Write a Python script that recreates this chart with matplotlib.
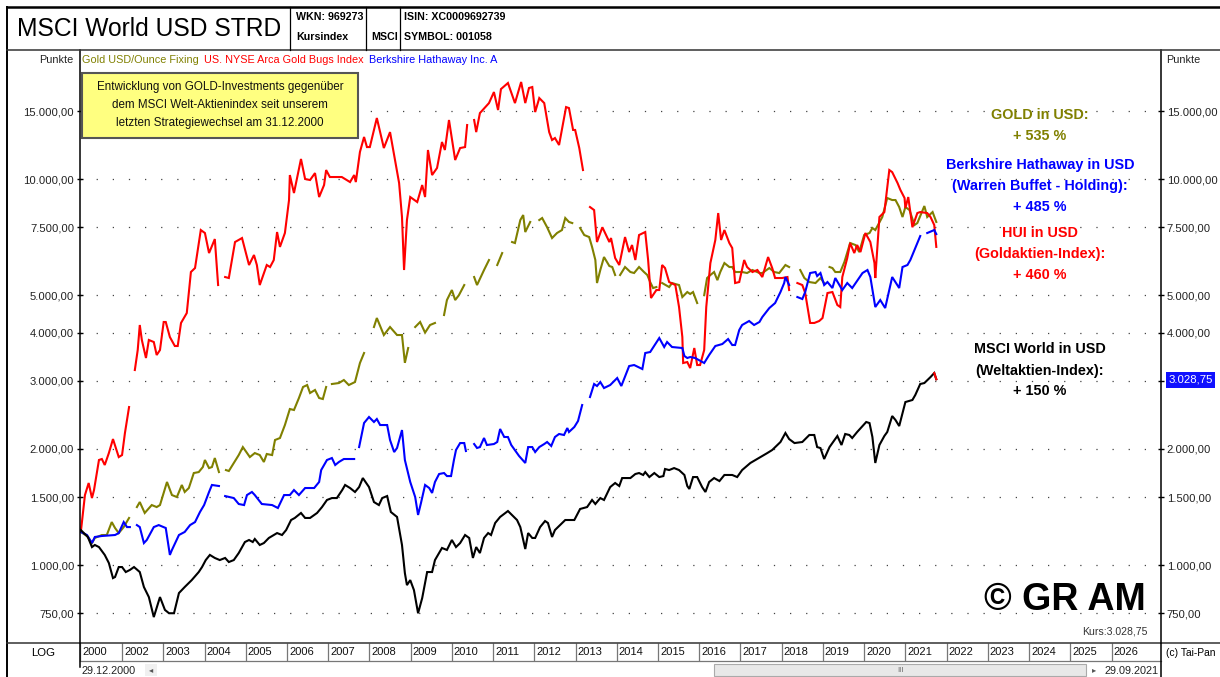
import numpy as np
import matplotlib
matplotlib.use("Agg")
import matplotlib.pyplot as plt
from matplotlib.lines import Line2D
from matplotlib.patches import Rectangle
from matplotlib.ticker import FixedLocator, NullLocator
from matplotlib import transforms

plt.rcParams['font.family'] = ['Liberation Sans', 'DejaVu Sans']

# ---- data (decimal year, index points), None = gap in the series ----
msci = [(2001.0, 1232), (2001.17, 1182), (2001.27, 1113), (2001.34, 1127), (2001.44, 1113), (2001.58, 1062),
        (2001.68, 1012), (2001.78, 925), (2001.83, 931), (2001.92, 988), (2002.00, 988), (2002.09, 959),
        (2002.19, 971), (2002.29, 988), (2002.43, 959), (2002.53, 877), (2002.65, 826), (2002.77, 733),
        (2002.92, 826), (2003.04, 765), (2003.14, 750), (2003.26, 750), (2003.38, 846), (2003.52, 877),
        (2003.69, 914), (2003.86, 959), (2003.94, 988), (2004.03, 1030), (2004.13, 1062), (2004.25, 1043),
        (2004.37, 1030), (2004.50, 1043), (2004.59, 1018), (2004.71, 1030), (2004.83, 1074), (2004.98, 1147),
        (2005.08, 1161), (2005.17, 1147), (2005.22, 1168), (2005.34, 1127), (2005.44, 1140), (2005.56, 1175),
        (2005.76, 1210), (2005.88, 1196), (2005.98, 1232), (2006.10, 1308), (2006.19, 1324), (2006.34, 1364),
        (2006.44, 1324), (2006.56, 1324), (2006.73, 1364), (2006.85, 1413), (2006.97, 1474), (2007.09, 1491),
        (2007.21, 1491), (2007.34, 1564), (2007.41, 1612), (2007.53, 1583), (2007.65, 1546), (2007.75, 1592),
        (2007.84, 1680), (2007.99, 1592), (2008.11, 1456), (2008.23, 1430), (2008.31, 1491), (2008.43, 1509),
        (2008.52, 1372), (2008.67, 1332), (2008.79, 1127), (2008.86, 953), (2008.91, 887), (2008.99, 914),
        (2009.08, 861), (2009.18, 750), (2009.28, 821), (2009.40, 959), (2009.52, 959), (2009.59, 1030),
        (2009.76, 1107), (2009.88, 1094), (2010.00, 1161), (2010.10, 1113), (2010.20, 1140), (2010.32, 1196),
        (2010.42, 1175), (2010.51, 1043), (2010.59, 1113), (2010.68, 1074), (2010.78, 1175), (2010.88, 1210),
        (2010.95, 1196), (2011.05, 1285), (2011.17, 1332), (2011.36, 1380), (2011.58, 1308), (2011.66, 1254),
        (2011.78, 1100), (2011.85, 1210), (2011.95, 1175), (2012.02, 1175), (2012.14, 1254), (2012.26, 1300),
        (2012.33, 1285), (2012.43, 1182), (2012.50, 1232), (2012.75, 1308), (2012.97, 1308), (2013.11, 1397),
        (2013.28, 1413), (2013.40, 1474), (2013.48, 1439), (2013.60, 1491), (2013.69, 1474), (2013.84, 1592),
        (2013.96, 1631), (2014.06, 1602), (2014.13, 1680), (2014.33, 1680), (2014.45, 1721), (2014.54, 1731),
        (2014.64, 1711), (2014.69, 1741), (2014.79, 1690), (2014.91, 1731), (2015.03, 1690), (2015.13, 1700),
        (2015.17, 1773), (2015.27, 1762), (2015.39, 1783), (2015.51, 1762), (2015.64, 1711), (2015.71, 1602),
        (2015.76, 1574), (2015.85, 1690), (2015.95, 1690), (2016.07, 1592), (2016.15, 1546), (2016.24, 1641),
        (2016.36, 1680), (2016.49, 1650), (2016.61, 1711), (2016.80, 1711), (2016.92, 1690), (2017.04, 1762),
        (2017.24, 1838), (2017.53, 1916), (2017.65, 1950), (2017.77, 1986), (2017.97, 2083), (2018.09, 2198),
        (2018.18, 2120), (2018.31, 2070), (2018.50, 2083), (2018.67, 2172), (2018.79, 2172), (2018.86, 2021),
        (2018.94, 2009), (2019.03, 1882), (2019.16, 2021), (2019.35, 2159), (2019.45, 2046), (2019.54, 2185),
        (2019.64, 2172), (2019.71, 2133), (2019.83, 2211), (2020.05, 2347), (2020.13, 2332), (2020.20, 2146),
        (2020.27, 1838), (2020.37, 2046), (2020.49, 2159), (2020.56, 2211), (2020.68, 2432), (2020.76, 2375),
        (2020.85, 2291), (2021.00, 2644), (2021.17, 2676), (2021.24, 2757), (2021.36, 2944), (2021.46, 2961),
        (2021.61, 3069), (2021.70, 3143), (2021.75, 3029)]

berkshire = [(2001.0, 1218), (2001.15, 1196), (2001.27, 1140), (2001.34, 1182), (2001.51, 1189), (2001.83, 1196),
             (2001.92, 1210), (2002.04, 1292), (2002.12, 1254), (2002.19, 1254), (2002.27, None),
             (2002.36, 1269), (2002.43, 1254), (2002.53, 1140), (2002.60, 1161), (2002.77, 1254), (2002.89, 1269),
             (2003.06, 1247), (2003.16, 1062), (2003.21, 1094), (2003.38, 1196), (2003.52, 1218), (2003.65, 1269),
             (2003.77, 1292), (2003.89, 1372), (2003.99, 1430), (2004.11, 1546), (2004.18, 1612), (2004.35, 1602),
             (2004.42, None),
             (2004.50, 1509), (2004.71, 1491), (2004.83, 1439), (2004.96, 1430), (2005.03, 1518), (2005.15, 1546),
             (2005.22, 1518), (2005.39, 1439), (2005.64, 1430), (2005.78, 1405), (2005.93, 1518), (2006.07, 1518),
             (2006.17, 1564), (2006.29, 1518), (2006.44, 1583), (2006.66, 1583), (2006.78, 1641), (2006.83, 1762),
             (2006.97, 1871), (2007.09, 1893), (2007.17, 1816), (2007.26, 1849), (2007.38, 1882), (2007.63, 1882),
             (2007.69, None),
             (2007.75, 2021), (2007.87, 2333), (2007.99, 2418), (2008.11, 2347), (2008.18, 2389), (2008.26, 2305),
             (2008.43, 2305), (2008.50, 2108), (2008.60, 1962), (2008.67, 2010), (2008.79, 2237), (2008.86, 1871),
             (2008.99, 1641), (2009.11, 1500), (2009.18, 1348), (2009.25, 1447), (2009.35, 1612), (2009.45, 1583),
             (2009.52, 1537), (2009.59, 1641), (2009.69, 1721), (2009.81, 1731), (2009.88, 1700), (2009.98, 1700),
             (2010.05, 1871), (2010.10, 1986), (2010.20, 2070), (2010.30, 2070), (2010.34, 1974), (2010.44, None),
             (2010.54, 2058), (2010.61, 2010), (2010.68, 2021), (2010.78, 2133), (2010.85, 2046), (2011.02, 2058),
             (2011.10, 2083), (2011.17, 2251), (2011.27, 2146), (2011.36, 2146), (2011.44, 2046), (2011.63, 1916),
             (2011.78, 1838), (2011.85, 2021), (2011.95, 2021), (2012.02, 1962), (2012.12, 2021), (2012.24, 2058),
             (2012.31, 2083), (2012.41, 2034), (2012.50, 2146), (2012.60, 2185), (2012.72, 2172), (2012.80, 2264),
             (2012.84, 2211), (2012.97, 2278), (2013.06, 2361), (2013.16, 2597), (2013.25, None),
             (2013.35, 2724), (2013.45, 2944), (2013.52, 2909), (2013.60, 2979), (2013.69, 2874), (2013.84, 2926),
             (2014.01, 3051), (2014.11, 2909), (2014.30, 3277), (2014.42, 3297), (2014.62, 3219), (2014.69, 3542),
             (2014.81, 3563), (2015.03, 3873), (2015.15, 3671), (2015.22, 3782), (2015.34, 3671), (2015.59, 3649),
             (2015.64, 3479), (2015.71, 3438), (2015.78, 3458), (2015.90, 3438), (2016.12, 3337), (2016.24, 3500),
             (2016.39, 3693), (2016.56, 3737), (2016.70, 3850), (2016.80, 3715), (2016.87, 3715), (2016.97, 4063),
             (2017.04, 4186), (2017.21, 4287), (2017.33, 4186), (2017.46, 4262), (2017.53, 4390), (2017.70, 4632),
             (2017.84, 4772), (2017.97, 5096), (2018.06, 5377), (2018.09, 5573), (2018.18, 5313), (2018.28, None),
             (2018.38, 4946), (2018.50, 4888), (2018.57, 5096), (2018.69, 5708), (2018.82, 5742), (2018.86, 5606),
             (2018.94, 5708), (2019.03, 5313), (2019.11, 5409), (2019.23, 5219), (2019.30, 5540), (2019.47, 5157),
             (2019.59, 5377), (2019.71, 5219), (2019.96, 5708), (2020.08, 5811), (2020.15, 5573), (2020.27, 4660),
             (2020.39, 4858), (2020.51, 4632), (2020.68, 5573), (2020.85, 5219), (2020.93, 5916), (2021.05, 5987),
             (2021.12, 6168), (2021.36, 7117), (2021.45, None),
             (2021.53, 7246), (2021.70, 7376), (2021.75, 7200)]

gold = [(2001.0, 1218), (2001.15, 1189), (2001.27, 1140), (2001.34, 1175), (2001.51, 1196), (2001.63, 1196),
        (2001.75, 1292), (2001.83, 1247), (2001.92, 1210), (2002.04, 1254), (2002.17, 1324), (2002.26, None),
        (2002.36, 1413), (2002.43, 1456), (2002.55, 1364), (2002.72, 1430), (2002.84, 1413), (2002.92, 1430),
        (2003.01, 1537), (2003.09, 1641), (2003.21, 1518), (2003.33, 1500), (2003.45, 1612), (2003.52, 1546),
        (2003.62, 1583), (2003.74, 1731), (2003.86, 1741), (2003.96, 1794), (2004.01, 1871), (2004.11, 1783),
        (2004.18, 1794), (2004.25, 1893), (2004.35, 1741), (2004.43, None),
        (2004.52, 1762), (2004.59, 1752), (2004.71, 1838), (2004.83, 1927), (2004.93, 2021), (2005.03, 1950),
        (2005.10, 1904), (2005.22, 1950), (2005.34, 1927), (2005.44, 1849), (2005.51, 1939), (2005.64, 1927),
        (2005.71, 2108), (2005.83, 2133), (2005.95, 2305), (2006.07, 2536), (2006.17, 2521), (2006.29, 2708),
        (2006.39, 2892), (2006.49, 2926), (2006.56, 2790), (2006.68, 2841), (2006.78, 2708), (2006.87, 2692),
        (2006.95, 2892), (2007.02, None),
        (2007.09, 2944), (2007.26, 2961), (2007.38, 3015), (2007.50, 2926), (2007.65, 2979), (2007.77, 3337),
        (2007.87, 3542), (2007.99, None),
        (2008.11, 4136), (2008.18, 4364), (2008.35, 3943), (2008.50, 4136), (2008.67, 3943), (2008.79, 3943),
        (2008.86, 3340), (2008.94, 3649), (2009.02, None),
        (2009.11, 4136), (2009.23, 4262), (2009.35, 4000), (2009.47, 4186), (2009.59, 4237), (2009.70, None),
        (2009.81, 4443), (2009.88, 4858), (2010.00, 5157), (2010.08, 4858), (2010.17, 5000), (2010.30, 5313),
        (2010.42, None),
        (2010.54, 5573), (2010.61, 5313), (2010.78, 5811), (2010.90, 6168), (2011.00, None),
        (2011.10, 5987), (2011.22, 6430), (2011.34, None),
        (2011.46, 6867), (2011.53, 6826), (2011.66, 7830), (2011.73, 8067), (2011.78, 7289), (2011.90, 7740),
        (2012.01, None),
        (2012.12, 7830), (2012.19, 7924), (2012.31, 7500), (2012.43, 7032), (2012.55, 7246), (2012.67, 7376),
        (2012.75, 7924), (2012.84, 7740), (2012.92, 7690), (2013.02, None),
        (2013.11, 7465), (2013.21, 7160), (2013.33, 7074), (2013.40, 6670), (2013.48, 6168), (2013.52, 5377),
        (2013.60, 5811), (2013.69, 6279), (2013.82, 5951), (2013.89, 5916), (2013.96, 5640), (2014.02, None),
        (2014.08, 5640), (2014.20, 5916), (2014.33, 5742), (2014.42, 5708), (2014.54, 5916), (2014.66, 5742),
        (2014.74, 5640), (2014.81, 5409), (2014.88, 5219), (2014.96, 5250), (2015.03, None),
        (2015.10, 5377), (2015.27, 5250), (2015.34, 5377), (2015.42, 5345), (2015.51, 5313), (2015.59, 4946),
        (2015.71, 5096), (2015.78, 5036), (2015.85, 5096), (2015.95, 4772), (2016.04, None),
        (2016.12, 5000), (2016.19, 5540), (2016.27, 5640), (2016.36, 5742), (2016.44, 5470), (2016.51, 5742),
        (2016.61, 6058), (2016.73, 5916), (2016.80, 5916), (2016.87, 5742), (2017.04, 5742), (2017.16, 5708),
        (2017.29, 5811), (2017.46, 5708), (2017.53, 5708), (2017.70, 5880), (2017.82, 5742), (2017.94, 5708),
        (2018.09, 5987), (2018.18, 5916), (2018.32, None),
        (2018.45, 5811), (2018.55, 5540), (2018.67, 5409), (2018.82, 5377), (2018.94, 5540), (2019.03, 5377),
        (2019.10, None),
        (2019.16, 5916), (2019.23, 5880), (2019.30, 5742), (2019.42, 5742), (2019.52, 6094), (2019.66, 6826),
        (2019.79, 6745), (2019.88, 6469), (2020.00, 7160), (2020.13, 7246), (2020.20, 7465), (2020.27, 7376),
        (2020.44, 7971), (2020.56, 8928), (2020.68, 8822), (2020.76, 8822), (2020.85, 8461), (2020.93, 7971),
        (2021.00, 8461), (2021.10, 8310), (2021.22, 7600), (2021.29, 7690), (2021.46, 8512), (2021.53, 7971),
        (2021.66, 8212), (2021.75, 7740)]

hui = [(2001.0, 1218), (2001.10, 1518), (2001.19, 1631), (2001.27, 1491), (2001.32, 1564), (2001.44, 1871),
       (2001.51, 1882), (2001.58, 1816), (2001.68, 1950), (2001.78, 2120), (2001.92, 1904), (2002.00, 1927),
       (2002.07, 2198), (2002.17, 2566), (2002.24, None),
       (2002.31, 3200), (2002.38, 3606), (2002.43, 4186), (2002.48, 3828), (2002.58, 3438), (2002.65, 3828),
       (2002.77, 3782), (2002.84, 3500), (2002.92, 3606), (2003.01, 4262), (2003.06, 4262), (2003.16, 3896),
       (2003.28, 3693), (2003.35, 3693), (2003.43, 4237), (2003.57, 4496), (2003.67, 5742), (2003.77, 5880),
       (2003.91, 7376), (2004.01, 7246), (2004.11, 6430), (2004.25, 6990), (2004.33, 5313), (2004.42, None),
       (2004.50, 5573), (2004.59, 5540), (2004.74, 6867), (2004.91, 7032), (2005.08, 5987), (2005.20, 6355),
       (2005.27, 5987), (2005.34, 5313), (2005.51, 5987), (2005.59, 5916), (2005.68, 6168), (2005.76, 7289),
       (2005.83, 6670), (2005.95, 7246), (2006.05, 8822), (2006.07, 10240), (2006.17, 9198), (2006.34, 11270),
       (2006.44, 10000), (2006.56, 9940), (2006.68, 10360), (2006.78, 8981), (2006.90, 9648), (2006.95, 10550),
       (2007.04, 10120), (2007.33, 10120), (2007.53, 9820), (2007.63, 10240), (2007.67, 9820), (2007.77, 11750),
       (2007.87, 12850), (2007.94, 12100), (2008.01, 12100), (2008.18, 14390), (2008.35, 12030), (2008.50, 13230),
       (2008.62, 11200), (2008.72, 9763), (2008.79, 7971), (2008.84, 5811), (2008.91, 7830), (2008.99, 8981),
       (2009.16, 8717), (2009.28, 9648), (2009.35, 8981), (2009.42, 11890), (2009.52, 10240), (2009.64, 10680),
       (2009.76, 12470), (2009.83, 11890), (2009.93, 14220), (2010.08, 11200), (2010.20, 12030), (2010.32, 12100),
       (2010.37, 13800), (2010.45, None),
       (2010.54, 14220), (2010.59, 13230), (2010.68, 14820), (2010.90, 15730), (2011.02, 16800), (2011.12, 15090),
       (2011.19, 17100), (2011.36, 17730), (2011.53, 15730), (2011.68, 17840), (2011.78, 15730), (2011.87, 17210),
       (2011.95, 17310), (2012.02, 14910), (2012.12, 16210), (2012.24, 15730), (2012.36, 13230), (2012.43, 12620),
       (2012.50, 12770), (2012.60, 12250), (2012.77, 15360), (2012.84, 15270), (2012.94, 13400), (2012.99, 13400),
       (2013.09, 12030), (2013.18, 10550), (2013.27, None),
       (2013.35, 8461), (2013.45, 8310), (2013.52, 6867), (2013.65, 7500), (2013.74, 7160), (2013.82, 6867),
       (2013.86, 7032), (2013.96, 6242), (2014.06, 5987), (2014.20, 7074), (2014.30, 6469), (2014.37, 6745),
       (2014.45, 6168), (2014.54, 7160), (2014.69, 7289), (2014.76, 6168), (2014.83, 4917), (2014.96, 5157),
       (2015.03, 5157), (2015.10, 5987), (2015.17, 5880), (2015.27, 5409), (2015.42, 5313), (2015.51, 4660),
       (2015.59, 3896), (2015.61, 3337), (2015.71, 3356), (2015.78, 3238), (2015.88, 3649), (2015.95, 3297),
       (2016.02, 3297), (2016.12, 3606), (2016.17, 4660), (2016.27, 6058), (2016.39, 6950), (2016.46, 8163),
       (2016.53, 6950), (2016.61, 7376), (2016.73, 6826), (2016.80, 6626), (2016.87, 5377), (2016.97, 5409),
       (2017.09, 6168), (2017.16, 5916), (2017.29, 5742), (2017.41, 5811), (2017.53, 5573), (2017.67, 6279),
       (2017.77, 5880), (2017.84, 5540), (2018.01, 5540), (2018.14, 5573), (2018.18, 5157), (2018.28, None),
       (2018.38, 5377), (2018.50, 5313), (2018.57, 5066), (2018.69, 4237), (2018.79, 4237), (2018.91, 4287),
       (2018.99, 4364), (2019.11, 5066), (2019.23, 5096), (2019.35, 4716), (2019.42, 4660), (2019.47, 5573),
       (2019.59, 6242), (2019.66, 6826), (2019.76, 6430), (2019.83, 6745), (2019.91, 6469), (2020.03, 7246),
       (2020.15, 6867), (2020.25, 6058), (2020.27, 5540), (2020.37, 7971), (2020.49, 8212), (2020.56, 9534),
       (2020.61, 10550), (2020.68, 10420), (2020.81, 9763), (2020.88, 9365), (2020.98, 8928), (2021.00, 8411),
       (2021.07, 8981), (2021.17, 7500), (2021.29, 8163), (2021.36, 8212), (2021.53, 8163), (2021.61, 7971),
       (2021.70, 7600), (2021.75, 6670)]

y_ticks = [750, 1000, 1500, 2000, 3000, 4000, 5000, 7500, 10000, 15000]
year_pos = [2000.98] + list(range(2002, 2027))
year_labels = ["2000"] + [str(y) for y in range(2002, 2027)]
last_price = "3.028,75"

OLIVE, RED, BLUE = "#808000", "#ff0000", "#0000ff"
SMALL = 7.8


def unzip(rows):
    t = np.array([r[0] for r in rows], float)
    v = np.array([r[1] for r in rows], dtype=float)
    return t, v


def de_num(v):
    s = f"{v:,.2f}"
    return s.replace(",", "X").replace(".", ",").replace("X", ".")


W, H = 1220, 677
fig = plt.figure(figsize=(12.2, 6.77), dpi=100)
fig.patch.set_facecolor("white")


def fx(px):
    return px / W


def fy(py):
    return 1 - py / H


ax = fig.add_axes([fx(80), fy(643), fx(1161) - fx(80), fy(50) - fy(643)])
ax.set_facecolor("white")

for rows, col in [(gold, OLIVE), (hui, RED), (berkshire, BLUE), (msci, "black")]:
    t, v = unzip(rows)
    ax.plot(t, v, color=col, lw=1.5, solid_joinstyle="miter")
t, v = unzip(msci)
ax.plot(t[-2:], v[-2:], color=RED, lw=1.5)

ax.set_yscale("log")
ax.set_ylim(628, 21590)
ax.set_xlim(2000.98, 2027.20)
ax.yaxis.set_major_locator(FixedLocator(y_ticks))
ax.yaxis.set_minor_locator(NullLocator())
ax.set_yticklabels([de_num(v) for v in y_ticks])
ax.xaxis.set_major_locator(NullLocator())
ax.xaxis.set_minor_locator(NullLocator())
ax.tick_params(axis="y", left=True, right=True, labelleft=True, labelright=True,
               direction="inout", length=4, width=1, labelsize=8.1, labelcolor="#222", pad=2.2)
ax.yaxis.grid(True, linestyle=(0, (1, 11.9)), linewidth=0.9, color="#444")
for s in ["top", "bottom"]:
    ax.spines[s].set_visible(False)
for s in ["left", "right"]:
    ax.spines[s].set_linewidth(1.1)

# year strip below the plot
xt = ax.get_xaxis_transform()
strip = 18 / 593
ax.vlines(year_pos, -strip, 0, transform=xt, colors="#777", lw=0.9, clip_on=False)
ax.plot([2000.98, 2027.20], [-strip, -strip], transform=xt, color="#777", lw=0.9, clip_on=False)
lab_tr = transforms.offset_copy(xt, fig=fig, x=2, units="dots")
for p, lab in zip(year_pos, year_labels):
    ax.text(p, -strip / 2, lab, transform=lab_tr, ha="left", va="center", fontsize=8, color="#111")


def hline(y, x0, x1, lw=1.0, col="black"):
    fig.add_artist(Line2D([fx(x0), fx(x1)], [fy(y), fy(y)], transform=fig.transFigure, color=col, lw=lw))


def vline(x, y0, y1, lw=1.0, col="black"):
    fig.add_artist(Line2D([fx(x), fx(x)], [fy(y0), fy(y1)], transform=fig.transFigure, color=col, lw=lw))


hline(7, 7, 1220, lw=1.8)
vline(7, 7, 677, lw=1.4)
hline(50, 7, 1220, lw=1.1, col="#333")
hline(643, 7, 1220, lw=1.1, col="#333")
for xs in [290, 366, 400]:
    vline(xs, 7, 50, lw=0.9)
vline(1161, 643, 677, lw=1.1)
vline(80, 643, 667, lw=1.1)

# header
fig.text(fx(17), fy(29), "MSCI World USD STRD", fontsize=17.7, ha="left", va="center")
hb = dict(fontsize=7.7, fontweight="bold", ha="left", va="center")
fig.text(fx(296), fy(17), "WKN: 969273", **hb)
fig.text(fx(296), fy(37), "Kursindex", **hb)
fig.text(fx(371), fy(37), "MSCI", **hb)
fig.text(fx(404), fy(17), "ISIN: XC0009692739", **hb)
fig.text(fx(404), fy(37), "SYMBOL: 001058", **hb)

# legend row
fig.text(fx(73), fy(60), "Punkte", fontsize=SMALL, ha="right", va="center", color="#222")
fig.text(fx(1166), fy(60), "Punkte", fontsize=SMALL, ha="left", va="center", color="#222")
fig.text(fx(82), fy(60), "Gold USD/Ounce Fixing", fontsize=SMALL, ha="left", va="center", color=OLIVE)
fig.text(fx(204), fy(60), "US. NYSE Arca Gold Bugs Index", fontsize=SMALL, ha="left", va="center", color=RED)
fig.text(fx(369), fy(60), "Berkshire Hathaway Inc. A", fontsize=SMALL, ha="left", va="center", color=BLUE)

# yellow comment box
fig.add_artist(Rectangle((fx(82), fy(138)), fx(358) - fx(82), fy(73) - fy(138), transform=fig.transFigure,
                         facecolor="#ffff80", edgecolor="#555", lw=1.5))
for yy, line in zip([87, 105, 123], ["Entwicklung von GOLD-Investments gegenüber",
                                     "dem MSCI Welt-Aktienindex seit unserem",
                                     "letzten Strategiewechsel am 31.12.2000"]):
    fig.text(fx(220), fy(yy), line, fontsize=8.4, ha="center", va="center", color="#111")

# performance notes
notes = [(115, "GOLD in USD:", OLIVE), (136, "+ 535 %", OLIVE),
         (165, "Berkshire Hathaway in USD", BLUE), (186, "(Warren Buffet - Holding):", BLUE),
         (207, "+ 485 %", BLUE),
         (233, "HUI in USD", RED), (254, "(Goldaktien-Index):", RED), (275, "+ 460 %", RED),
         (349, "MSCI World in USD", "black"), (371, "(Weltaktien-Index):", "black"), (391, "+ 150 %", "black")]
for yy, s, c in notes:
    fig.text(fx(1040), fy(yy), s, fontsize=10.4, fontweight="bold", ha="center", va="center", color=c)

# last price marker on right axis
fig.add_artist(Rectangle((fx(1166), fy(388)), fx(1215) - fx(1166), fy(372) - fy(388), transform=fig.transFigure,
                         facecolor="#1010ff", edgecolor="none"))
fig.text(fx(1190.5), fy(380), last_price, fontsize=8.2, ha="center", va="center", color="white")

fig.text(fx(1065), fy(600), "© GR AM", fontsize=27, fontweight="bold", ha="center", va="center")
fig.text(fx(1148), fy(632), "Kurs:" + last_price, fontsize=7.6, ha="right", va="center", color="#333")

# bottom strip
fig.text(fx(43), fy(653), "LOG", fontsize=8.2, ha="center", va="center")
fig.text(fx(1166), fy(653), "(c) Tai-Pan", fontsize=7.4, ha="left", va="center")
fig.text(fx(82), fy(671), "29.12.2000", fontsize=SMALL, ha="left", va="center", color="#222")
fig.add_artist(Rectangle((fx(145), fy(676)), fx(157) - fx(145), fy(664) - fy(676), transform=fig.transFigure,
                         facecolor="#f0f0f0", edgecolor="none"))
fig.text(fx(151), fy(670), "◂", fontsize=6, ha="center", va="center", color="#555", family=["DejaVu Sans"])
fig.add_artist(Rectangle((fx(714), fy(676)), fx(1086) - fx(714), fy(664) - fy(676), transform=fig.transFigure,
                         facecolor="#e8e8e8", edgecolor="#aaa", lw=0.8))
fig.text(fx(900), fy(670), "III", fontsize=5.5, ha="center", va="center", color="#666")
fig.text(fx(1094), fy(670), "▸", fontsize=6, ha="center", va="center", color="#555", family=["DejaVu Sans"])
fig.text(fx(1159), fy(671), "29.09.2021", fontsize=SMALL, ha="right", va="center", color="#222")

fig.savefig("out.png", dpi=100, facecolor="white")
